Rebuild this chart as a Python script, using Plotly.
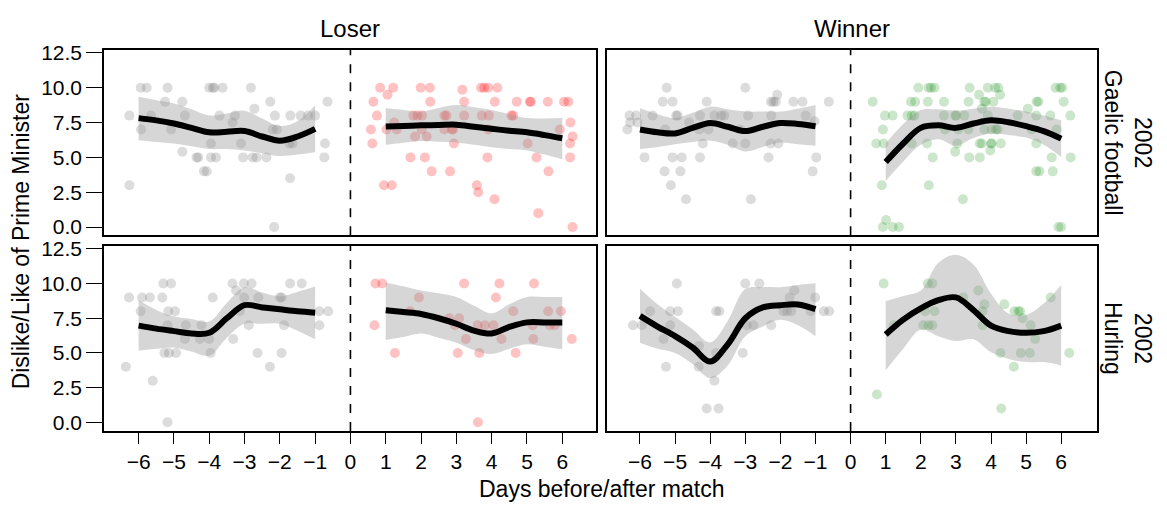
import plotly.graph_objects as go

# ---------------- data ----------------
COLUMNS = ["Loser", "Winner"]
ROWS = ["2002<br>Gaelic football", "2002<br>Hurling"]
TICK_DAYS = [-6, -5, -4, -3, -2, -1, 0, 1, 2, 3, 4, 5, 6]
TICK_DAY_LABELS = ["\u22126", "\u22125", "\u22124", "\u22123", "\u22122", "\u22121", "0", "1", "2", "3", "4", "5", "6"]
TICK_SCORE = [0, 2.5, 5, 7.5, 10, 12.5]
TICK_SCORE_LABELS = ["0.0", "2.5", "5.0", "7.5", "10.0", "12.5"]

FIT_DAYS_BEFORE = [-6, -5.5, -5, -4.5, -4, -3.5, -3, -2.5, -2, -1.5, -1]
FIT_DAYS_AFTER = [1, 1.5, 2, 2.5, 3, 3.5, 4, 4.5, 5, 5.5, 6]

# Gaelic football / Loser
gf_los_before_x = [-5.94, -5.77, -5.18, -4.00, -3.90, -3.85, -3.62, -2.82,
                   -5.25, -4.76, -2.27, -0.65,
                   -6.26, -5.65, -4.69, -3.71, -3.27, -2.72, -2.14, -1.70, -1.41, -1.20, -1.00,
                   -3.34,
                   -5.93, -5.08, -2.20, -2.08,
                   -3.95, -3.10, -1.73, -1.64, -0.72,
                   -4.76,
                   -4.36, -4.31, -3.95, -3.81, -3.04, -2.77, -2.66, -2.38, -0.74,
                   -4.15, -4.07,
                   -1.71,
                   -6.26,
                   -2.16]
gf_los_before_y = [10, 10, 10, 10, 10, 10, 10, 10,
                   9, 9, 9, 9,
                   8, 8, 8, 8, 8, 8.5, 8, 8, 8, 8, 8,
                   7.5,
                   7, 7, 7, 7,
                   6, 6, 6, 6, 6,
                   5.4,
                   5, 5, 5, 5, 5, 5, 5, 5, 5,
                   4, 4,
                   3.5,
                   3,
                   0]
gf_los_after_x = [0.84, 1.21, 1.99, 2.25, 3.17, 3.70, 3.79, 3.90, 4.16,
                  1.05,
                  0.65, 2.26, 3.22, 4.09, 4.71, 5.08, 5.11, 5.59, 6.05, 6.17,
                  0.75, 1.78, 1.90, 2.03, 2.66, 2.72, 3.22, 3.72, 3.92, 4.56, 4.61,
                  1.24, 6.23,
                  0.58, 1.02, 1.31, 2.02, 2.66, 2.87, 2.91, 3.90, 5.93,
                  1.83, 2.16, 6.29,
                  0.62, 2.93, 5.02, 6.22,
                  1.70, 2.11, 3.88, 5.27, 6.22,
                  2.30, 2.82, 5.61,
                  0.95, 1.17, 3.58,
                  3.62,
                  4.08,
                  5.32,
                  6.29]
gf_los_after_y = [10, 10, 10, 10, 9.85, 10, 10, 10, 10,
                  9.5,
                  9, 9, 9, 9, 9, 9, 9, 9, 9, 9,
                  8, 8, 8, 8, 8, 8, 8, 8, 8, 8, 8,
                  7.5, 7.5,
                  7, 7, 7, 7, 7, 7, 7, 7, 7,
                  6.5, 6.5, 6.5,
                  6, 6, 6, 6,
                  5, 5, 5, 5, 5,
                  4, 4, 4,
                  3, 3, 3,
                  2.5,
                  2,
                  1,
                  0]
gf_los_fit_before = [7.82, 7.66, 7.43, 7.12, 6.80, 6.84, 6.89, 6.50, 6.20, 6.50, 7.05]
gf_los_lo_before = [6.23, 6.10, 6.00, 5.80, 5.60, 5.60, 5.50, 5.30, 5.10, 5.20, 5.37]
gf_los_hi_before = [9.35, 9.10, 8.87, 8.45, 8.00, 8.15, 8.35, 7.80, 7.25, 7.60, 8.75]
gf_los_fit_after = [7.22, 7.26, 7.30, 7.33, 7.35, 7.20, 7.05, 6.92, 6.80, 6.60, 6.37]
gf_los_lo_after = [5.90, 6.05, 6.18, 6.12, 6.07, 5.90, 5.72, 5.60, 5.50, 5.20, 4.86]
gf_los_hi_after = [8.52, 8.40, 8.29, 8.55, 8.76, 8.60, 8.40, 8.10, 7.82, 7.80, 7.82]

# Gaelic football / Winner
gf_win_before_x = [-5.24, -3.00,
                   -2.09,
                   -5.35, -5.07, -4.10, -2.27, -2.20, -2.13, -1.63, -1.37, -0.62,
                   -6.30, -6.11, -5.64, -4.97, -4.93, -4.29, -3.88, -3.69, -3.60, -2.92, -2.26, -1.28,
                   -6.28, -6.07, -4.60, -1.03,
                   -6.36, -5.28, -4.31, -4.05, -3.15,
                   -4.21, -3.36, -3.00, -2.28, -2.06,
                   -5.87, -5.07, -4.81, -4.29, -2.34, -0.98,
                   -5.30, -4.85, -1.08,
                   -5.12,
                   -4.69, -2.84]
gf_win_before_y = [10, 10,
                   9.5,
                   9, 9, 9, 9, 9, 9, 9, 9, 9,
                   8, 8, 8, 8, 8, 8, 8, 8, 8, 8, 8, 8,
                   7.5, 7.5, 7.5, 7.6,
                   7, 7, 7, 7, 7,
                   6, 6, 6, 6, 6,
                   5, 5, 5, 5, 5, 5,
                   4, 4, 4,
                   3,
                   2, 2]
gf_win_after_x = [1.93, 2.22, 2.29, 2.39, 3.39, 3.91, 4.12, 4.21, 5.84, 5.97, 6.03,
                  0.63, 1.72, 1.84, 2.20, 2.66, 3.36, 3.81, 3.85, 4.07, 5.30, 5.35, 6.07,
                  3.66, 4.26,
                  3.74, 5.05,
                  0.98, 1.20, 1.62, 1.74, 1.82, 2.66, 2.98, 3.01, 3.24, 3.91, 4.76, 5.29, 5.69, 6.26,
                  0.92, 2.69, 3.07, 3.36, 3.81, 4.02, 4.14, 4.19, 5.16, 5.87,
                  0.73, 0.94, 1.74, 2.18, 3.04, 3.68, 3.74, 4.00, 4.02, 4.28, 5.29,
                  2.98, 3.98,
                  2.34, 3.38, 3.68, 5.73, 6.27,
                  5.29, 5.38, 5.76,
                  0.89, 2.23,
                  3.20,
                  1.01,
                  0.92, 1.20, 1.38, 5.92, 6.00]
gf_win_after_y = [10, 10, 10, 10, 10, 10, 10, 10, 10, 10, 10,
                  9, 9, 9, 9, 9, 9, 9, 9, 9, 9, 9, 9,
                  9.5, 9.5,
                  8.5, 8.5,
                  8, 8, 8, 8, 8, 8, 8, 8, 8, 8, 8, 8, 8, 8,
                  7, 7, 7, 7, 7, 7, 7, 7, 7, 7,
                  6, 6, 6, 6, 6, 6, 6, 6, 6, 6, 6,
                  5.4, 5.5,
                  5, 5, 5, 5, 5,
                  4, 4, 4,
                  3, 3,
                  2,
                  0.5,
                  0, 0, 0, 0, 0]
gf_win_fit_before = [7.00, 6.80, 6.72, 7.12, 7.47, 7.20, 6.89, 7.20, 7.47, 7.40, 7.24]
gf_win_lo_before = [5.60, 5.75, 5.95, 6.10, 6.20, 5.90, 5.42, 5.75, 6.07, 5.95, 5.84]
gf_win_hi_before = [8.52, 8.10, 7.82, 8.20, 8.64, 8.45, 8.29, 8.29, 8.29, 8.50, 8.76]
gf_win_fit_after = [4.67, 6.00, 7.12, 7.30, 7.12, 7.43, 7.66, 7.52, 7.24, 6.89, 6.35]
gf_win_lo_after = [3.30, 4.70, 5.90, 6.30, 5.84, 6.40, 6.72, 6.60, 6.42, 5.90, 5.02]
gf_win_hi_after = [6.00, 7.40, 8.40, 8.45, 8.36, 8.50, 8.64, 8.50, 8.29, 8.00, 7.66]

# Hurling / Loser
hu_los_before_x = [-5.30, -5.08, -3.34, -3.02, -2.80, -1.71, -1.38,
                   -3.24,
                   -6.27, -5.90, -5.68, -5.33, -3.90, -3.01, -2.61, -2.00, -1.95,
                   -5.94, -5.16, -4.97, -3.13, -0.88, -0.63,
                   -5.18, -4.66, -4.22, -2.88, -1.88, -0.88,
                   -4.69, -4.26, -4.00, -3.32,
                   -5.27, -5.14, -4.94, -3.96, -2.63, -1.95,
                   -6.36, -2.28,
                   -5.60,
                   -5.18]
hu_los_before_y = [10, 10, 10, 10, 10, 10, 10,
                   9.5,
                   9, 9, 9, 9, 9, 9, 9, 9, 9,
                   8, 8, 8, 8, 8, 8,
                   7, 7, 7, 7, 7, 7,
                   6, 6, 6, 6,
                   5, 5, 5, 5, 5, 5,
                   4, 4,
                   3,
                   0]
hu_los_after_x = [0.71, 0.90, 3.22, 4.22, 5.20,
                  1.94, 4.12,
                  1.69, 4.61, 5.60, 5.96,
                  2.80, 3.08,
                  0.68, 2.96, 3.60, 3.81, 4.05, 5.16, 5.65, 5.79,
                  3.27, 4.28, 5.18, 6.27,
                  1.26, 3.04, 3.65, 4.68,
                  3.61]
hu_los_after_y = [10, 10, 10, 10, 10,
                  9, 9,
                  8, 8, 8, 8,
                  7.5, 7.5,
                  7, 7, 7, 7, 7, 7, 7, 7,
                  6, 6, 6, 6,
                  5, 5, 5, 5,
                  0]
hu_los_fit_before = [6.97, 6.75, 6.57, 6.40, 6.45, 7.50, 8.44, 8.28, 8.14, 8.00, 7.90]
hu_los_lo_before = [5.16, 5.30, 5.39, 5.10, 4.80, 6.10, 7.10, 7.10, 7.10, 6.60, 5.98]
hu_los_hi_before = [8.79, 8.10, 7.62, 7.45, 7.27, 8.60, 9.73, 9.35, 9.08, 9.40, 9.78]
hu_los_fit_after = [8.08, 7.95, 7.81, 7.50, 7.10, 6.61, 6.40, 6.87, 7.20, 7.20, 7.20]
hu_los_lo_after = [5.93, 6.15, 6.40, 6.10, 5.74, 5.20, 4.92, 5.30, 5.62, 5.45, 5.27]
hu_los_hi_after = [10.08, 9.80, 9.50, 9.30, 9.03, 8.40, 7.85, 8.50, 9.03, 9.03, 9.03]

# Hurling / Winner
hu_win_before_x = [-4.95, -3.00, -2.60,
                   -1.60,
                   -1.74, -1.01,
                   -5.71, -5.14, -4.92, -3.83, -3.74, -1.91, -1.81, -1.69, -1.14, -0.76, -0.61,
                   -6.20, -5.95, -5.14, -2.96, -2.77, -2.26,
                   -5.33,
                   -4.32,
                   -3.83, -3.07,
                   -5.26, -4.33,
                   -3.88,
                   -4.10, -3.76]
hu_win_before_y = [10, 10, 10,
                   9.5,
                   9, 9,
                   8, 8, 8, 8, 8, 8, 8, 8, 8, 8, 8,
                   7, 7, 7, 7, 7, 7,
                   6,
                   5.5,
                   5, 5,
                   4, 4,
                   3,
                   1, 1]
hu_win_after_x = [0.94, 2.20, 2.33,
                  3.64,
                  5.70, 3.21,
                  4.38, 3.81,
                  2.12, 2.39, 3.76, 4.67, 4.78, 4.83,
                  4.90,
                  1.23, 2.07, 2.22, 2.33, 3.76, 5.13,
                  5.26,
                  4.27, 4.85, 5.11, 6.23,
                  4.65,
                  0.75,
                  4.29]
hu_win_after_y = [10, 10, 10,
                  9.5,
                  9, 9,
                  8.5, 8.5,
                  8, 8, 8, 8, 8, 8,
                  7.5,
                  7, 7, 7, 7, 7, 7,
                  6,
                  5, 5, 5, 5,
                  4,
                  2,
                  1]
hu_win_fit_before = [7.67, 6.90, 6.21, 5.39, 4.38, 5.62, 7.50, 8.28, 8.44, 8.49, 8.16]
hu_win_lo_before = [5.74, 5.30, 5.00, 4.20, 3.17, 4.10, 6.20, 6.90, 7.39, 7.00, 6.21]
hu_win_hi_before = [9.62, 8.50, 7.60, 6.70, 5.75, 7.30, 9.60, 9.74, 9.74, 9.90, 10.02]
hu_win_fit_after = [6.33, 7.40, 8.21, 8.80, 9.00, 8.09, 6.97, 6.57, 6.45, 6.57, 6.97]
hu_win_lo_after = [3.75, 5.30, 6.68, 6.21, 5.86, 5.98, 5.04, 4.57, 4.34, 4.34, 4.10]
hu_win_hi_after = [8.74, 9.10, 9.50, 11.50, 12.08, 11.37, 9.27, 7.85, 7.74, 8.56, 9.90]

# ---------------- styles ----------------
FONT = "Liberation Sans, Arial, Helvetica, sans-serif"
GRAY_PT = "rgba(120,120,120,0.26)"
RED_PT = "rgba(255,0,0,0.24)"
GREEN_PT = "rgba(0,128,0,0.2)"
BAND = "rgba(153,153,153,0.4)"
W, H = 1167, 507
TICK_SIZE = 21
TEXT_SIZE = 23

panels = [
    ("x", "y", gf_los_before_x, gf_los_before_y, gf_los_after_x, gf_los_after_y, RED_PT,
     gf_los_fit_before, gf_los_lo_before, gf_los_hi_before, gf_los_fit_after, gf_los_lo_after, gf_los_hi_after),
    ("x2", "y2", gf_win_before_x, gf_win_before_y, gf_win_after_x, gf_win_after_y, GREEN_PT,
     gf_win_fit_before, gf_win_lo_before, gf_win_hi_before, gf_win_fit_after, gf_win_lo_after, gf_win_hi_after),
    ("x3", "y3", hu_los_before_x, hu_los_before_y, hu_los_after_x, hu_los_after_y, RED_PT,
     hu_los_fit_before, hu_los_lo_before, hu_los_hi_before, hu_los_fit_after, hu_los_lo_after, hu_los_hi_after),
    ("x4", "y4", hu_win_before_x, hu_win_before_y, hu_win_after_x, hu_win_after_y, GREEN_PT,
     hu_win_fit_before, hu_win_lo_before, hu_win_hi_before, hu_win_fit_after, hu_win_lo_after, hu_win_hi_after),
]

fig = go.Figure()
for (xa, ya, bx, by, axx, ayy, acol, fb, lb, hb, fa, la, ha) in panels:
    fig.add_trace(go.Scatter(x=bx, y=by, mode="markers", xaxis=xa, yaxis=ya,
                             marker=dict(size=10, color=GRAY_PT, line=dict(width=0))))
    fig.add_trace(go.Scatter(x=axx, y=ayy, mode="markers", xaxis=xa, yaxis=ya,
                             marker=dict(size=10, color=acol, line=dict(width=0))))
    for days, lo, hi in ((FIT_DAYS_BEFORE, lb, hb), (FIT_DAYS_AFTER, la, ha)):
        fig.add_trace(go.Scatter(x=days, y=lo, mode="lines", xaxis=xa, yaxis=ya,
                                 line=dict(width=0, shape="spline"), hoverinfo="skip"))
        fig.add_trace(go.Scatter(x=days, y=hi, mode="lines", xaxis=xa, yaxis=ya,
                                 line=dict(width=0, shape="spline"), fill="tonexty",
                                 fillcolor=BAND, hoverinfo="skip"))
    for days, fit in ((FIT_DAYS_BEFORE, fb), (FIT_DAYS_AFTER, fa)):
        fig.add_trace(go.Scatter(x=days, y=fit, mode="lines", xaxis=xa, yaxis=ya,
                                 line=dict(width=6, color="black", shape="spline")))
    fig.add_shape(type="line", xref=xa, yref=ya + " domain", x0=0, x1=0, y0=0, y1=1,
                  line=dict(color="black", width=1.6, dash="dash"))

# ---------------- layout ----------------
xL = [104 / W, 596 / W]
xR = [607 / W, 1097 / W]
yT = [1 - 231.7 / H, 1 - 41.7 / H]
yB = [1 - 432.3 / H, 1 - 242.7 / H]


def xax(dom, rng, anchor, bottom):
    d = dict(domain=dom, range=rng, anchor=anchor, showline=True, mirror=True,
             linecolor="black", linewidth=1.5, showgrid=False, zeroline=False,
             tickvals=TICK_DAYS, ticktext=TICK_DAY_LABELS,
             tickfont=dict(size=TICK_SIZE, color="black"))
    if bottom:
        d.update(ticks="outside", ticklen=11, tickwidth=1.2, tickcolor="black", showticklabels=True)
    else:
        d.update(ticks="", showticklabels=False)
    return d


def yax(dom, rng, anchor, left):
    d = dict(domain=dom, range=rng, anchor=anchor, showline=True, mirror=True,
             linecolor="black", linewidth=1.5, showgrid=False, zeroline=False,
             tickvals=TICK_SCORE, ticktext=TICK_SCORE_LABELS,
             tickfont=dict(size=TICK_SIZE, color="black"))
    if left:
        d.update(ticks="outside", ticklen=16, tickwidth=1.2, tickcolor="black", showticklabels=True)
    else:
        d.update(ticks="", showticklabels=False)
    return d


xr_left = [-6.98, 6.955]
xr_right = [-6.94, 7.02]
yr_top = [-0.585, 12.73]
yr_bot = [-0.633, 12.71]

fig.update_layout(
    width=W, height=H, margin=dict(l=0, r=0, t=0, b=0),
    paper_bgcolor="white", plot_bgcolor="white", showlegend=False,
    font=dict(family=FONT, color="black"),
    xaxis=xax(xL, xr_left, "y", False),
    yaxis=yax(yT, yr_top, "x", True),
    xaxis2=xax(xR, xr_right, "y2", False),
    yaxis2=yax(yT, yr_top, "x2", False),
    xaxis3=xax(xL, xr_left, "y3", True),
    yaxis3=yax(yB, yr_bot, "x3", True),
    xaxis4=xax(xR, xr_right, "y4", True),
    yaxis4=yax(yB, yr_bot, "x4", False),
)

ann = [
    dict(text=COLUMNS[0], x=350 / W, y=1 - 20 / H, font=dict(size=24)),
    dict(text=COLUMNS[1], x=852 / W, y=1 - 20 / H, font=dict(size=24)),
    dict(text=ROWS[0], x=1128 / W, y=1 - 137 / H, textangle=90, font=dict(size=TEXT_SIZE)),
    dict(text=ROWS[1], x=1128 / W, y=1 - 337 / H, textangle=90, font=dict(size=TEXT_SIZE)),
    dict(text="Dislike/Like of Prime Minister", x=21 / W, y=1 - 238 / H, textangle=-90,
         font=dict(size=TEXT_SIZE)),
    dict(text="Days before/after match", x=601 / W, y=1 - 492 / H, font=dict(size=TEXT_SIZE)),
]
for a in ann:
    fig.add_annotation(xref="paper", yref="paper", showarrow=False,
                       xanchor="center", yanchor="middle", **a)

fig.write_html("out.html")
